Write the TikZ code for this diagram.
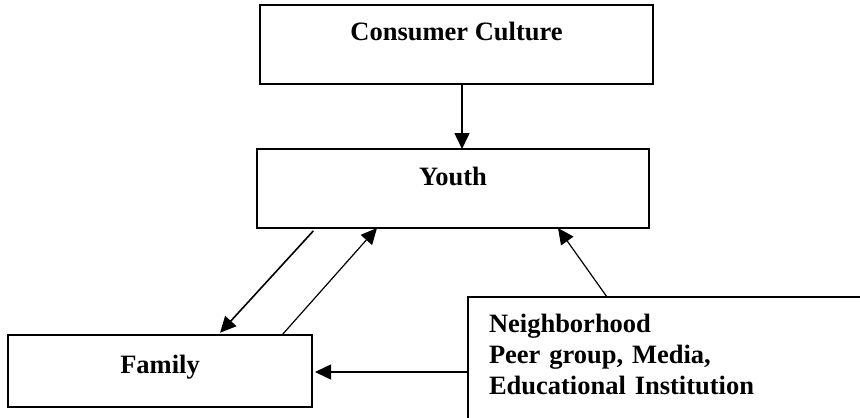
\documentclass[tikz,border=0pt]{standalone}
\usepackage{fontspec}
\setmainfont{Liberation Serif}
\usetikzlibrary{arrows.meta}

\begin{document}
\begin{tikzpicture}[x=0.5pt,y=-0.5pt,font=\fontsize{13.25}{15.5}\selectfont\bfseries,
  box/.style={draw,line width=1pt,outer sep=0pt,anchor=north west,text height=8.8pt},
  arr/.style={line width=0.8pt,-{Triangle[length=8pt,width=7.5pt]}}]
\useasboundingbox(0,0) rectangle (860,417);
\clip(0,0) rectangle (860,417);

\node[box,minimum width=196.5pt,inner ysep=9pt,text depth=12.7pt] (cc) at(260,5) {Consumer Culture};
\node[box,minimum width=196pt,inner ysep=9.5pt,text depth=11.7pt] (youth) at(257,149) {Youth};
\node[box,minimum width=152pt,inner ysep=10.5pt,text depth=6.2pt] (family) at(8,335) {Family};
\node[box,text width=180pt,inner xsep=10.5pt,inner ysep=9pt,text depth=34pt,align=left] (neigh) at(468,297) {Neighborhood\\Peer group, Media,\\Educational Institution};

\draw[arr](cc.south -| 462,0)--(youth.north -| 462,0);
\draw[arr,shorten <=2pt,shorten >=1.5pt](youth.south -| 316,0)--(family.north -| 218,0);
\draw[arr,line width=0.6pt](family.north -| 282,0)--(youth.south -| 377,0);
\draw[arr,line width=0.6pt](neigh.north -| 607,0)--(youth.south -| 558,0);
\draw[arr,shorten >=1.5pt](neigh.west |- 0,372)--(family.east |- 0,372);

\end{tikzpicture}
\end{document}
